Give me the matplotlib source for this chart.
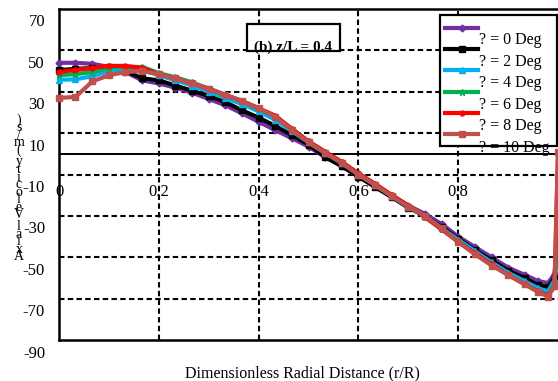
import matplotlib
matplotlib.use("Agg")
import matplotlib.pyplot as plt
import matplotlib.transforms as mtransforms
from matplotlib.patches import Rectangle
from matplotlib.lines import Line2D

# ---------------- data ----------------
x_rR = [0.000, 0.033, 0.067, 0.100, 0.133, 0.167, 0.200, 0.233, 0.267, 0.300,
        0.333, 0.367, 0.400, 0.433, 0.467, 0.500, 0.533, 0.567, 0.600, 0.633,
        0.667, 0.700, 0.733, 0.767, 0.800, 0.833, 0.867, 0.900, 0.933, 0.960,
        0.980, 0.993, 1.000]

v_0deg = [44.0, 44.0, 43.5, 42.0, 39.5, 35.5, 34.0, 32.0, 29.5, 26.5,
          23.5, 19.5, 15.5, 11.5, 7.5, 3.5, -1.5, -6.0, -11.0, -15.5,
          -20.5, -25.0, -29.0, -34.0, -40.0, -45.0, -50.0, -55.0, -58.5, -61.5,
          -62.5, -58.0, -40.0]
v_2deg = [40.5, 41.0, 41.5, 42.0, 40.0, 36.5, 35.5, 33.0, 30.5, 28.0,
          25.0, 21.0, 17.5, 13.5, 9.0, 4.5, -1.5, -6.0, -11.0, -16.0,
          -21.0, -26.0, -30.0, -35.5, -41.0, -46.5, -51.5, -56.5, -60.0, -63.5,
          -64.5, -60.0, -42.0]
v_4deg = [35.8, 36.0, 37.5, 40.0, 41.0, 40.5, 38.0, 35.5, 33.0, 30.0,
          27.0, 24.0, 20.5, 16.5, 11.0, 5.5, 0.5, -4.5, -10.0, -15.0,
          -20.5, -25.5, -30.0, -36.0, -41.5, -47.0, -52.5, -57.5, -61.5, -65.0,
          -66.5, -61.0, -40.0]
v_6deg = [38.0, 38.5, 39.5, 41.5, 42.0, 42.0, 39.0, 37.0, 34.5, 31.5,
          28.5, 25.5, 22.0, 18.0, 12.0, 6.0, 1.0, -4.0, -9.5, -14.5,
          -20.0, -25.0, -30.5, -36.5, -42.5, -48.0, -53.5, -58.5, -63.0, -66.5,
          -68.5, -63.0, -35.0]
v_8deg = [39.6, 40.5, 41.5, 42.5, 42.5, 41.5, 38.5, 36.5, 34.0, 31.5,
          28.5, 25.5, 22.0, 18.5, 12.0, 6.0, 1.0, -4.0, -9.5, -14.5,
          -20.0, -25.0, -30.5, -36.5, -42.5, -48.0, -53.5, -58.5, -63.0, -66.5,
          -68.5, -64.0, 0.0]
v_10deg = [27.0, 27.5, 35.0, 38.0, 39.5, 40.0, 38.5, 36.5, 34.0, 31.5,
           28.5, 25.5, 22.0, 18.0, 11.5, 5.5, 0.5, -4.5, -10.0, -15.0,
           -20.5, -25.5, -30.0, -36.0, -42.5, -48.5, -54.0, -58.5, -63.0, -66.8,
           -69.0, -64.0, 1.0]

series_labels = ["? = 0 Deg", "? = 2 Deg", "? = 4 Deg", "? = 6 Deg", "? = 8 Deg", "? = 10 Deg"]
series_values = [v_0deg, v_2deg, v_4deg, v_6deg, v_8deg, v_10deg]

y_tick_values = [70, 50, 30, 10, -10, -30, -50, -70, -90]
y_grid_values = [50, 30, 10, -10, -30, -50, -70]
x_tick_values = [0, 0.2, 0.4, 0.6, 0.8]
x_tick_labels = ["0", "0.2", "0.4", "0.6", "0.8"]
x_grid_values = [0.2, 0.4, 0.6, 0.8]

# ---------------- styles ----------------
colors = ["#7030A0", "#000000", "#00B0F0", "#00B050", "#FF0000", "#C0504D"]
markers = ["D", "s", "^", "*", "o", "s"]
msizes = [3.5, 4.0, 4.0, 4.5, 3.5, 5.0]

W, H = 558, 381
FONT = "Liberation Serif"
FS = 11.5

fig = plt.figure(figsize=(W / 100, H / 100), dpi=100)
fig.patch.set_facecolor("white")

ax_l, ax_r, ax_t, ax_b = 59, 558, 9, 340
ax = fig.add_axes([ax_l / W, 1 - ax_b / H, (ax_r - ax_l) / W, (ax_b - ax_t) / H])
ax.set_xlim(0, 1.0)
ax.set_ylim(-90, 70)
ax.set_xticks([])
ax.set_yticks([])
for side in ["left", "bottom", "top"]:
    ax.spines[side].set_linewidth(1.8)
    ax.spines[side].set_color("black")
ax.spines["right"].set_visible(False)


def P(x, y):
    return (x / W, 1 - y / H)


dash = (0, (2.6, 1.6))
for g in y_grid_values:
    ax.axhline(g, color="black", lw=1.5, linestyle=dash, zorder=2)
for g in x_grid_values:
    ax.axvline(g, color="black", lw=1.5, linestyle=dash, zorder=2)
ax.axhline(0, color="black", lw=1.4, zorder=2)

for vals, c, m, ms in zip(series_values, colors, markers, msizes):
    ax.plot(x_rR, vals, color=c, lw=3.0, marker=m, ms=ms, mec=c, mfc=c,
            zorder=3, clip_on=False)

# y tick labels (shifted down like the original)
off_y = mtransforms.ScaledTranslation(0, -0.135, fig.dpi_scale_trans)
ytrans = mtransforms.blended_transform_factory(fig.transFigure, ax.transData) + off_y
for v in y_tick_values:
    fig.text(45 / W, v, str(v), transform=ytrans, ha="right", va="center",
             fontsize=12, family=FONT, zorder=1)

# x tick labels
xtrans = mtransforms.blended_transform_factory(ax.transData, fig.transFigure)
for v, lab in zip(x_tick_values, x_tick_labels):
    ax.text(v, 1 - 192 / H, lab, transform=xtrans, ha="center", va="center",
            fontsize=12, family=FONT, zorder=1, clip_on=False)

# x label
fig.text(*P(302, 373), "Dimensionless Radial Distance (r/R)", ha="center", va="center",
         fontsize=FS, family=FONT)

# y label: stacked upright characters, reading bottom to top
ylab = "Axial Velocity (m/s)"
ypos = 257.0
for ch in ylab:
    if ch == " ":
        ypos -= 4.0
        continue
    fig.text(*P(19, ypos), ch, ha="center", va="center", fontsize=10, family=FONT)
    ypos -= 7.6

# annotation box
fig.patches.append(Rectangle(P(247, 51), 93 / W, 27 / H, transform=fig.transFigure,
                             facecolor="white", edgecolor="black", lw=1.6, zorder=5))
fig.text(*P(293, 47.5), "(b) z/L = 0.4", ha="center", va="center", fontsize=11,
         family=FONT, weight="bold", zorder=6)

# legend (manual)
fig.patches.append(Rectangle(P(440, 146), 117 / W, 131 / H, transform=fig.transFigure,
                             facecolor="white", edgecolor="black", lw=1.6, zorder=7))
for i, (lab, c, m, ms) in enumerate(zip(series_labels, colors, markers, msizes)):
    yh = 28 + 21.2 * i
    x0, y0 = P(445, yh)
    x1, _ = P(478, yh)
    fig.lines.append(Line2D([x0, x1], [y0, y0], transform=fig.transFigure, color=c,
                            lw=3.0, zorder=8))
    fig.lines.append(Line2D([(x0 + x1) / 2], [y0], transform=fig.transFigure, color=c,
                            marker=m, ms=ms, mec=c, mfc=c, zorder=8))
    fig.text(*P(479, 40 + 21.6 * i), lab, ha="left", va="center", fontsize=FS,
             family=FONT, zorder=9)

fig.savefig("out.png", dpi=100, facecolor="white")
